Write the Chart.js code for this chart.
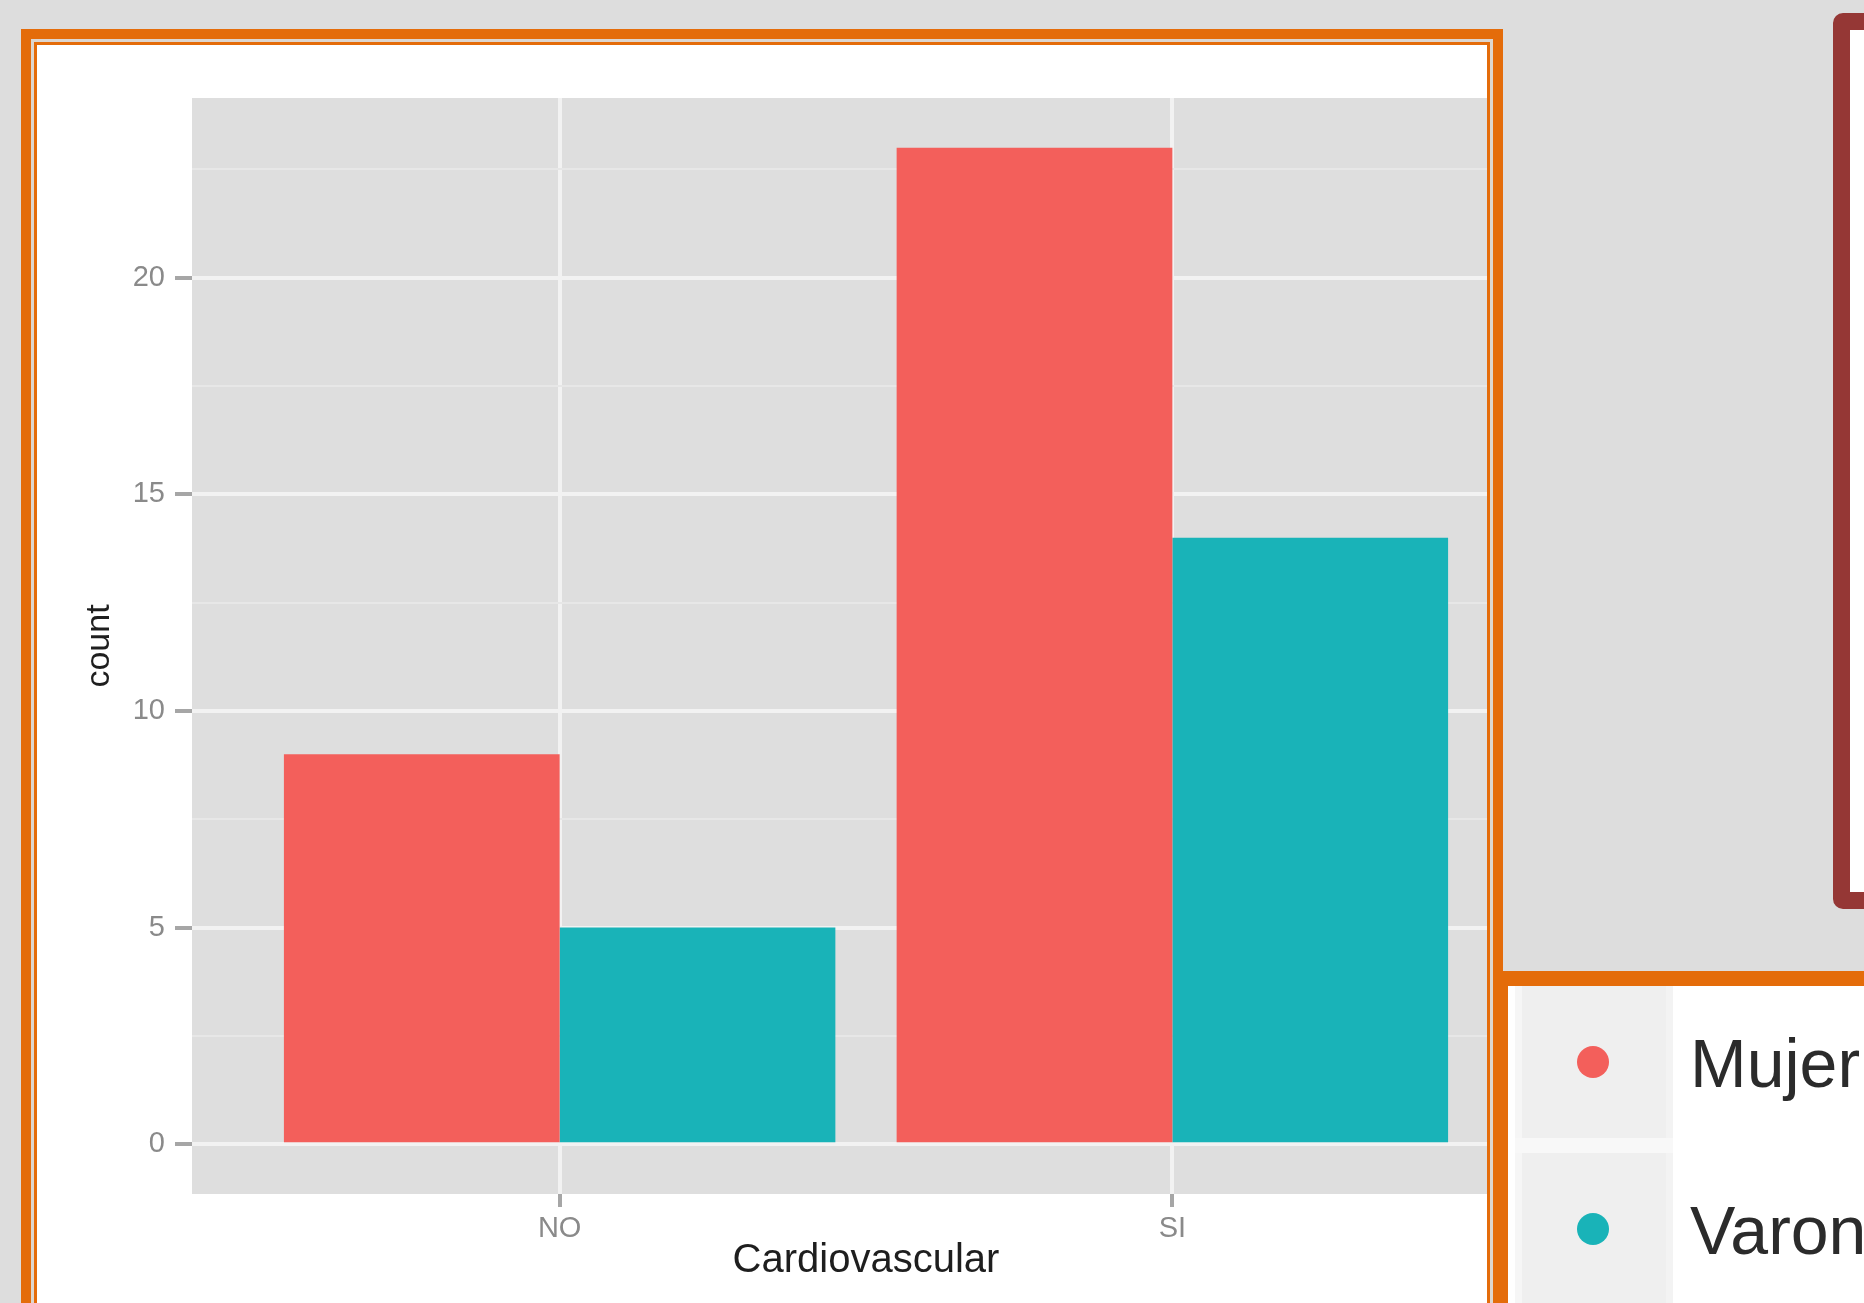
<!DOCTYPE html>
<html>
<head>
<meta charset="utf-8">
<title>Cardiovascular</title>
<script src="https://cdn.jsdelivr.net/npm/chart.js@4.4.1/dist/chart.umd.min.js"></script>
<style>
  html, body { margin: 0; padding: 0; }
  body {
    width: 1864px; height: 1303px; overflow: hidden; position: relative;
    background: #dddddd;
    font-family: "Liberation Sans", Arial, sans-serif;
  }
  /* orange double frame round the plot */
  #frame {
    position: absolute; left: 21px; top: 29px; width: 1482px; height: 1400px;
    box-sizing: border-box; border: 10px solid #e46c0a; padding: 3px;
    background: #ddd6cf;
  }
  #frame .inner {
    width: 100%; height: 100%; box-sizing: border-box;
    border: 3px solid #e46c0a; background: #ffffff;
  }
  #plot {
    position: absolute; left: 37px; top: 45px; width: 1450px; height: 1258px;
    overflow: hidden;
  }
  #plot canvas { position: absolute; left: 0; top: 0; }
  /* dark red box on the right */
  #note {
    position: absolute; left: 1833px; top: 13px; width: 200px; height: 896px;
    box-sizing: border-box; border: 17px solid #953735; border-radius: 10px;
    background: #ffffff;
  }
  /* legend box */
  #legend {
    position: absolute; left: 1493px; top: 971px; width: 500px; height: 500px;
    box-sizing: border-box; border-left: 15px solid #e46c0a; border-top: 15px solid #e46c0a;
    background: #ffffff;
  }
  .key {
    position: absolute; width: 158px; height: 152px; box-sizing: border-box;
    background: #efefef; border-left: 7px solid #f6f6f6; border-right: 7px solid #f3f3f3;
  }
  .sep { position: absolute; width: 158px; height: 15px; background: #f8f8f8; }
  .dot {
    position: absolute; width: 32px; height: 32px; border-radius: 50%;
    filter: blur(0.7px);
  }
  .name {
    position: absolute; font-size: 68px; line-height: 68px; color: #2b2b2b;
    white-space: nowrap;
  }
</style>
</head>
<body>
<div id="frame"><div class="inner"></div></div>
<div id="plot"><canvas id="chart" width="1503" height="1258" style="width:1503px;height:1258px"></canvas></div>
<div id="note"></div>
<div id="legend"></div>

<script>
// DATA
const categories = ["NO", "SI"];
const seriesNames = ["Mujer", "Varon"];
const mujerCounts = [9, 23];
const varonCounts = [5, 14];
const seriesColors = ["#f35f5b", "#19b3b8"];
const yMajorTicks = [0, 5, 10, 15, 20];
const yMinorTicks = [2.5, 7.5, 12.5, 17.5, 22.5];

const seriesValues = [mujerCounts, varonCounts];
const fontFamily = '"Liberation Sans", Arial, sans-serif';
const tickGrey = "#8a8a8a";

// LEGEND (html, built from the series)
seriesNames.forEach(function (name, s) {
  const rowTop = 986 + s * 167;
  const key = document.createElement("div");
  key.className = "key";
  key.style.left = "1515px";
  key.style.top = rowTop + "px";
  document.body.appendChild(key);
  if (s > 0) {
    const sep = document.createElement("div");
    sep.className = "sep";
    sep.style.left = "1515px";
    sep.style.top = (rowTop - 15) + "px";
    document.body.appendChild(sep);
  }
  const dot = document.createElement("div");
  dot.className = "dot";
  dot.style.left = "1577px";
  dot.style.top = (rowTop + 60) + "px";
  dot.style.background = seriesColors[s];
  document.body.appendChild(dot);
  const label = document.createElement("div");
  label.className = "name";
  label.textContent = name;
  label.style.left = "1690px";
  label.style.top = (rowTop + 43) + "px";
  document.body.appendChild(label);
});

// grey panel behind the bars
const panelBackground = {
  id: "panelBackground",
  beforeDraw(chart) {
    const ctx = chart.ctx;
    const a = chart.chartArea;
    ctx.save();
    ctx.fillStyle = "#dedede";
    ctx.fillRect(a.left, a.top, a.right - a.left, a.bottom - a.top);
    ctx.restore();
  },
};

function isMajor(c) {
  return c.tick && yMajorTicks.includes(c.tick.value);
}

const data = {
  datasets: seriesNames.map(function (name, s) {
    return {
      label: name,
      data: seriesValues[s].map(function (v, i) { return { x: i + 1, y: v }; }),
      backgroundColor: seriesColors[s],
      borderWidth: 0,
      categoryPercentage: 0.9,
      barPercentage: 1,
    };
  }),
};

const config = {
  type: "bar",
  data: data,
  options: {
    responsive: false,
    devicePixelRatio: 1,
    animation: false,
    layout: { padding: { left: 0, top: 53, right: 0, bottom: 0 } },
    plugins: { legend: { display: false }, tooltip: { enabled: false } },
    scales: {
      x: {
        type: "linear",
        min: 0.4,
        max: 2.6,
        offset: false,
        afterBuildTicks: function (s) {
          s.ticks = categories.map(function (c, i) { return { value: i + 1 }; });
        },
        afterFit: function (s) { s.height = 109; },
        grid: { offset: false, color: "#f2f2f2", lineWidth: 4, tickLength: 13, tickWidth: 4, tickColor: "#a6a6a6" },
        border: { display: false },
        ticks: {
          callback: function (v) { return categories[v - 1] || ""; },
          color: tickGrey,
          font: { size: 29, family: fontFamily },
          padding: 5,
          autoSkip: false,
          maxRotation: 0,
        },
        title: {
          display: true,
          text: "Cardiovascular",
          color: "#1e1e1e",
          font: { size: 40, family: fontFamily },
          padding: { top: 0, bottom: 18 },
        },
      },
      y: {
        min: -1.15,
        max: 24.15,
        afterBuildTicks: function (s) {
          s.ticks = yMajorTicks.concat(yMinorTicks)
            .sort(function (a, b) { return a - b; })
            .map(function (v) { return { value: v }; });
        },
        afterFit: function (s) { s.width = 155; },
        grid: {
          color: function (c) { return isMajor(c) ? "#f2f2f2" : "#e7e7e7"; },
          lineWidth: function (c) { return isMajor(c) ? 4 : 2; },
          tickColor: function (c) { return isMajor(c) ? "#a6a6a6" : "rgba(0,0,0,0)"; },
          tickLength: 17,
          tickWidth: 4,
        },
        border: { display: false },
        ticks: {
          callback: function (v) { return yMajorTicks.includes(v) ? String(v) : ""; },
          color: tickGrey,
          font: { size: 29, family: fontFamily },
          padding: 10,
          autoSkip: false,
        },
        title: {
          display: true,
          text: "count",
          color: "#1e1e1e",
          font: { size: 34, family: fontFamily },
          padding: { top: 42, bottom: 0 },
        },
      },
    },
  },
  plugins: [panelBackground],
};

var myChart = new Chart(document.getElementById("chart"), config);
</script>
</body>
</html>
